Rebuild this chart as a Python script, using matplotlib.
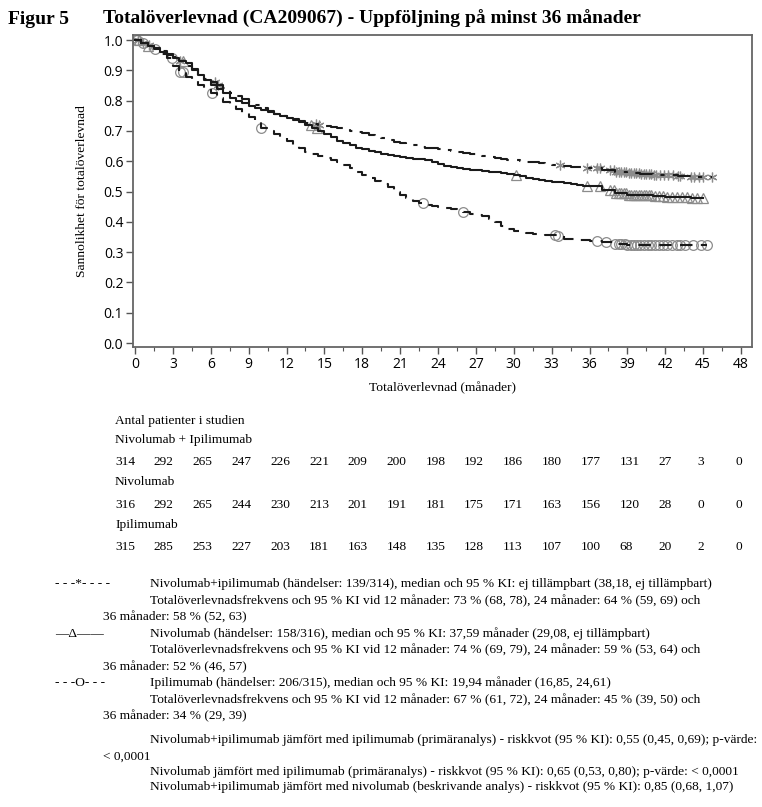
import numpy as np
import matplotlib
matplotlib.use("Agg")
import matplotlib.pyplot as plt

W, H = 762, 807
SERIF = ["Liberation Serif", "DejaVu Serif"]

# Gemensamma avläsningstider (månader) för de tidiga delarna av kurvorna
grid_t = [0, 0.5, 1, 1.5, 2, 2.5, 3, 3.5, 4, 4.5, 5, 5.5, 6, 6.5, 7, 7.5, 8, 8.5, 9, 9.5, 10, 10.5, 11, 11.5,
          12, 12.5, 13, 13.5, 14, 14.5, 15, 15.5, 16, 16.5, 17, 17.5, 18, 18.5, 19, 19.5, 20, 20.5, 21, 21.5,
          22, 22.5, 23, 23.5, 24, 24.5, 25, 25.5, 26, 26.5, 27, 27.5, 28, 28.5, 29, 29.5, 30, 30.5, 31, 31.5,
          32, 32.5, 33, 33.5, 34, 34.5, 35, 35.5, 36]

# Nivolumab + ipilimumab
combo_t = grid_t + [37, 38, 39, 40, 41, 42, 43, 44, 45.7]
combo_s = [1.0, 0.99, 0.985, 0.975, 0.965, 0.955, 0.945, 0.93, 0.915, 0.9, 0.885, 0.87, 0.86, 0.85, 0.84, 0.825,
           0.815, 0.805, 0.795, 0.785, 0.775, 0.765, 0.757, 0.75, 0.742, 0.737, 0.732, 0.727, 0.724, 0.72, 0.717,
           0.713, 0.709, 0.705, 0.70, 0.697, 0.693, 0.688, 0.683, 0.677, 0.671, 0.665, 0.66, 0.657, 0.653, 0.648,
           0.644, 0.642, 0.64, 0.637, 0.634, 0.631, 0.628, 0.624, 0.62, 0.617, 0.614, 0.611, 0.608, 0.605, 0.603,
           0.60, 0.598, 0.596, 0.594, 0.591, 0.588, 0.586, 0.584, 0.582, 0.58, 0.579, 0.577,
           0.57, 0.565, 0.56, 0.557, 0.555, 0.553, 0.55, 0.548, 0.548]
combo_cens = [0.2, 0.6, 1.1, 3.6, 6.3, 6.6, 14.3, 14.6, 33.7, 35.8, 36.6, 36.8, 37.6, 37.9, 38.1, 38.3, 38.5, 38.7,
              38.9, 39.1, 39.3, 39.5, 39.7, 39.9, 40.1, 40.3, 40.5, 40.7, 40.9, 41.1, 41.3, 41.6, 41.9, 42.2, 42.6,
              43.0, 43.2, 44.0, 44.3, 44.7, 45.0, 45.7]

# Nivolumab
nivo_t = grid_t + [37, 38, 39, 40, 41, 42, 43, 44, 45.0]
nivo_s = [1.0, 0.99, 0.98, 0.972, 0.962, 0.95, 0.94, 0.93, 0.923, 0.905, 0.885, 0.868, 0.852, 0.838, 0.824, 0.81,
          0.80, 0.792, 0.783, 0.775, 0.768, 0.762, 0.756, 0.75, 0.744, 0.738, 0.73, 0.72, 0.71, 0.70, 0.69, 0.68,
          0.668, 0.66, 0.652, 0.645, 0.64, 0.635, 0.63, 0.625, 0.62, 0.617, 0.614, 0.611, 0.608, 0.606, 0.604,
          0.598, 0.59, 0.585, 0.58, 0.577, 0.575, 0.572, 0.57, 0.568, 0.566, 0.563, 0.56, 0.557, 0.555, 0.55,
          0.545, 0.54, 0.537, 0.535, 0.532, 0.53, 0.527, 0.524, 0.521, 0.519, 0.517,
          0.505, 0.495, 0.49, 0.488, 0.485, 0.483, 0.482, 0.48, 0.48]
nivo_cens = [0.3, 1.0, 3.8, 13.9, 14.4, 30.2, 35.8, 36.8, 37.6, 37.9, 38.1, 38.3, 38.5, 38.7, 38.9, 39.1, 39.3,
             39.5, 39.7, 39.9, 40.1, 40.3, 40.5, 40.7, 40.9, 41.2, 41.5, 41.8, 42.1, 42.5, 42.9, 43.3, 43.7, 44.1,
             44.5, 45.0]

# Ipilimumab
ipi_t = grid_t + [37, 38, 39, 45.3]
ipi_s = [1.0, 0.99, 0.98, 0.97, 0.955, 0.94, 0.915, 0.895, 0.878, 0.865, 0.852, 0.838, 0.825, 0.81, 0.797, 0.785,
         0.773, 0.76, 0.745, 0.728, 0.71, 0.70, 0.69, 0.678, 0.666, 0.652, 0.642, 0.632, 0.624, 0.617, 0.61, 0.603,
         0.596, 0.586, 0.576, 0.566, 0.556, 0.546, 0.536, 0.525, 0.514, 0.50, 0.49, 0.48, 0.47, 0.462, 0.455,
         0.452, 0.45, 0.447, 0.444, 0.438, 0.432, 0.427, 0.422, 0.418, 0.41, 0.398, 0.385, 0.377, 0.37, 0.366,
         0.363, 0.36, 0.359, 0.358, 0.357, 0.352, 0.345, 0.342, 0.34, 0.34, 0.338,
         0.335, 0.328, 0.325, 0.325]
ipi_cens = [0.15, 0.6, 1.6, 2.9, 3.6, 3.8, 6.1, 10.0, 22.8, 26.0, 33.3, 33.5, 36.6, 37.3, 38.0, 38.3, 38.5, 38.8,
            39.0, 39.3, 39.5, 39.8, 40.0, 40.3, 40.6, 40.9, 41.2, 41.5, 41.8, 42.1, 42.5, 42.9, 43.2, 43.6, 44.2,
            44.8, 45.3]

x_ticks = list(range(0, 49, 3))
y_ticks = [0.0, 0.1, 0.2, 0.3, 0.4, 0.5, 0.6, 0.7, 0.8, 0.9, 1.0]

risk_groups = ["Nivolumab + Ipilimumab", "Nivolumab", "Ipilimumab"]
risk_combo = [314, 292, 265, 247, 226, 221, 209, 200, 198, 192, 186, 180, 177, 131, 27, 3, 0]
risk_nivo = [316, 292, 265, 244, 230, 213, 201, 191, 181, 175, 171, 163, 156, 120, 28, 0, 0]
risk_ipi = [315, 285, 253, 227, 203, 181, 163, 148, 135, 128, 113, 107, 100, 68, 20, 2, 0]

fig = plt.figure(figsize=(W / 100, H / 100), dpi=100)
ax = fig.add_axes([133 / W, 1 - 347 / H, 619 / W, 312 / H])


def step_value(t, s, x):
    i = np.searchsorted(t, x, side="right") - 1
    return np.asarray(s)[i]


series = [
    (combo_t, combo_s, combo_cens, (0, (9, 4, 2, 4)), (6, 2, 0)),
    (nivo_t, nivo_s, nivo_cens, "-", "^"),
    (ipi_t, ipi_s, ipi_cens, (0, (6, 4)), "o"),
]
for t, s, cens, ls, mk in series:
    ax.plot(t, s, drawstyle="steps-post", color="#1a1a1a", lw=1.5, linestyle=ls, zorder=3)
    ax.plot(cens, step_value(t, s, cens), linestyle="none", marker=mk, markersize=7,
            markerfacecolor="none", markeredgecolor="#8c8c8c", markeredgewidth=0.9, zorder=2)

ax.set_xlim(-0.16, 48.87)
ax.set_ylim(-0.013, 1.0165)
ax.set_xticks(x_ticks)
ax.set_xticks(np.arange(1.5, 48, 3), minor=True)
ax.set_yticks(y_ticks)
ax.set_yticklabels([f"{v:.1f}" for v in y_ticks])
ax.tick_params(which="major", length=5, width=1, color="#555555", labelsize=10, pad=2)
ax.tick_params(which="minor", length=3, width=0.8, color="#555555")
for lab in ax.get_xticklabels() + ax.get_yticklabels():
    lab.set_family(["Open Sans", "DejaVu Sans"])
for sp in ax.spines.values():
    sp.set_color("#666666")
    sp.set_linewidth(1.3)

ax.set_xlabel("Totalöverlevnad (månader)", family=SERIF, fontsize=9.7, labelpad=7)
ax.set_ylabel("Sannolikhet för totalöverlevnad", family=SERIF, fontsize=9.7, labelpad=11)


def put(x, y, s, **kw):
    kw.setdefault("family", SERIF)
    kw.setdefault("fontsize", 9.6)
    fig.text(x / W, 1 - y / H, s, va="center", **kw)


put(8, 19, "Figur 5", fontsize=14, weight="bold")
put(103, 19, "Totalöverlevnad (CA209067) - Uppföljning på minst 36 månader", fontsize=14, weight="bold")

put(115, 421, "Antal patienter i studien")
rows = [(440, 462, risk_combo), (482, 505, risk_nivo), (525, 547, risk_ipi)]
for name, (yn, yv, vals) in zip(risk_groups, rows):
    put(115, yn, name)
    for i, v in enumerate(vals):
        put(115 + i * 38.8, yv, str(v))

put(55, 584, "- - -*- - - -")
put(150, 584, "Nivolumab+ipilimumab (händelser: 139/314), median och 95 % KI: ej tillämpbart (38,18, ej tillämpbart)")
put(150, 601, "Totalöverlevnadsfrekvens och 95 % KI vid 12 månader: 73 % (68, 78), 24 månader: 64 % (59, 69) och")
put(103, 617, "36 månader: 58 % (52, 63)")
put(55, 634, "—Δ——")
put(150, 634, "Nivolumab (händelser: 158/316), median och 95 % KI: 37,59 månader (29,08, ej tillämpbart)")
put(150, 650, "Totalöverlevnadsfrekvens och 95 % KI vid 12 månader: 74 % (69, 79), 24 månader: 59 % (53, 64) och")
put(103, 667, "36 månader: 52 % (46, 57)")
put(55, 683, "- - -O- - -")
put(150, 683, "Ipilimumab (händelser: 206/315), median och 95 % KI: 19,94 månader (16,85, 24,61)")
put(150, 700, "Totalöverlevnadsfrekvens och 95 % KI vid 12 månader: 67 % (61, 72), 24 månader: 45 % (39, 50) och")
put(103, 716, "36 månader: 34 % (29, 39)")
put(150, 740, "Nivolumab+ipilimumab jämfört med ipilimumab (primäranalys) - riskkvot (95 % KI): 0,55 (0,45, 0,69); p-värde:")
put(103, 757, "< 0,0001")
put(150, 772, "Nivolumab jämfört med ipilimumab (primäranalys) - riskkvot (95 % KI): 0,65 (0,53, 0,80); p-värde: < 0,0001")
put(150, 787, "Nivolumab+ipilimumab jämfört med nivolumab (beskrivande analys) - riskkvot (95 % KI): 0,85 (0,68, 1,07)")

fig.savefig("out.png", dpi=100)
